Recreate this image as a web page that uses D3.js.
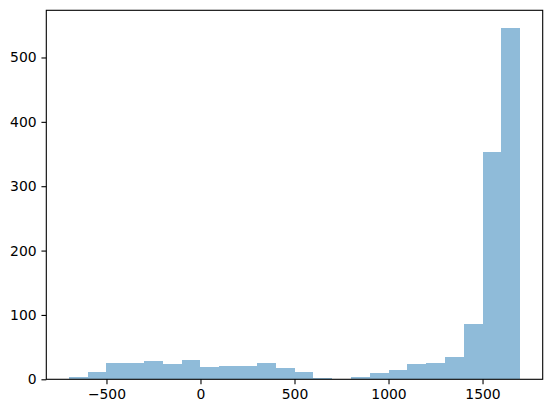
<!DOCTYPE html>
<html><head><meta charset="utf-8">
<script src="https://cdn.jsdelivr.net/npm/d3@7"></script>
<style>body{margin:0;background:#fff}svg{display:block}text{font-family:"DejaVu Sans",sans-serif}</style>
</head><body><svg id="c" width="552" height="413"></svg>
<script>
const binEdges = [-700,-600,-500,-400,-300,-200,-100,0,100,200,300,400,500,600,700,800,900,1000,1100,1200,1300,1400,1500,1600,1700];
const counts = [3,11,26,25,28,23,30,19,21,21,25,17,11,2,0,3,10,14,24,25,34,86,353,546];
const xTicks = [-500,0,500,1000,1500];
const yTicks = [0,100,200,300,400,500];

const L=46.3,R=542.7,T=10.3,B=379.3;
const svg=d3.select("#c");
const span=binEdges[binEdges.length-1]-binEdges[0];
const x=d3.scaleLinear().domain([binEdges[0]-span*0.05, binEdges[binEdges.length-1]+span*0.05]).range([L,R]);
const y=d3.scaleLinear().domain([0,d3.max(counts)*1.05]).range([B,T]);

svg.append("g").attr("shape-rendering","crispEdges").selectAll("rect").data(counts).join("rect")
 .attr("x",(d,i)=>x(binEdges[i]))
 .attr("width",(d,i)=>x(binEdges[i+1])-x(binEdges[i]))
 .attr("y",d=>y(d)).attr("height",d=>B-y(d))
 .attr("fill","#8fbbd9");

const fmt=d=>d<0?"\u2212"+Math.abs(d):String(d);
const xa=svg.append("g").attr("transform",`translate(0,${B})`)
 .call(d3.axisBottom(x).tickValues(xTicks).tickFormat(fmt).tickSize(4.86).tickPadding(4.86));
const ya=svg.append("g").attr("transform",`translate(${L},0)`)
 .call(d3.axisLeft(y).tickValues(yTicks).tickFormat(fmt).tickSize(4.86).tickPadding(4.86));
[xa,ya].forEach(a=>{a.select(".domain").remove();a.selectAll("line").attr("stroke","#000").attr("stroke-width",1.1);
 a.selectAll("text").attr("font-size","13.9px").attr("fill","#000").attr("font-family","DejaVu Sans");});
svg.append("rect").attr("x",L).attr("y",T).attr("width",R-L).attr("height",B-T)
 .attr("fill","none").attr("stroke","#000").attr("stroke-width",1.1);
</script></body></html>
